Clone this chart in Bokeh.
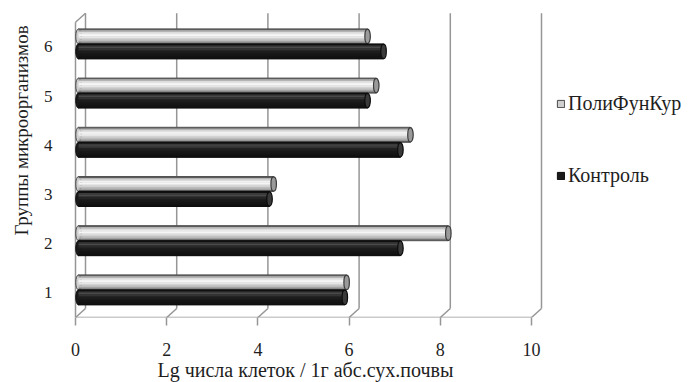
from bokeh.plotting import figure
from bokeh.models import FixedTicker, Legend, LegendItem, ColumnDataSource, Title
from bokeh.embed import file_html
from bokeh.resources import INLINE

# ---- data -------------------------------------------------------------
groups = [1, 2, 3, 4, 5, 6]
polifunkur = [5.88, 8.11, 4.28, 7.28, 6.53, 6.34]
kontrol = [5.84, 7.06, 4.19, 7.06, 6.34, 6.69]
x_ticks = [0, 2, 4, 6, 8, 10]
series_names = ["ПолиФунКур", "Контроль"]
x_title = "Lg числа клеток / 1г абс.сух.почвы"
y_title = "Группы микроорганизмов"

# ---- layout (pixels) --------------------------------------------------
W, H = 689, 382
FRAME_L, FRAME_T, FRAME_B = 62, 8, 317
ZERO_PX = 75          # pixel of x = 0 on the front plane
PX_X = 45.6           # pixels per x unit
PX_Y = 49.2           # pixels per category

x0 = -(ZERO_PX - FRAME_L) / PX_X
x1 = (W - ZERO_PX) / PX_X
y0 = 0.5
y1 = 0.5 + (FRAME_B - FRAME_T) / PX_Y

# depth offset of the back wall and of the bars (pseudo 3-D)
DX, DY = 10 / PX_X, 9 / PX_Y
BX, BY = 3 / PX_X, 3 / PX_Y
BAR_H = 15 / PX_Y
CAP_W = 5.5 / PX_X

SERIF = "Liberation Serif"
TEXT = "#1e1e1e"
WALL = "#969696"

p = figure(width=W, height=H, x_range=(x0, x1), y_range=(y0, y1),
           output_backend="svg", toolbar_location=None,
           min_border_left=FRAME_L, min_border_right=0,
           min_border_top=FRAME_T, min_border_bottom=H - FRAME_B)
p.outline_line_color = None
p.grid.visible = False
p.background_fill_color = "white"
p.border_fill_color = "white"

# ---- axes -------------------------------------------------------------
xa = p.xaxis[0]
xa.ticker = FixedTicker(ticks=x_ticks)
xa.axis_line_color = None
xa.major_tick_in = 0
xa.major_tick_out = 8
xa.major_tick_line_color = WALL
xa.major_tick_line_width = 1.5
xa.minor_tick_line_color = None
xa.major_label_text_font = SERIF
xa.major_label_text_font_size = "18px"
xa.major_label_text_color = TEXT
xa.major_label_standoff = 17

ya = p.yaxis[0]
ya.ticker = FixedTicker(ticks=groups)
ya.axis_line_color = None
ya.major_tick_in = 0
ya.major_tick_out = 0
ya.major_tick_line_color = None
ya.minor_tick_line_color = None
ya.major_label_text_font = SERIF
ya.major_label_text_font_size = "17px"
ya.major_label_text_color = TEXT
ya.major_label_standoff = 10

# ---- walls and floor --------------------------------------------------
front_bottom, front_top = 0.5, 6.5
gx = [t + DX for t in x_ticks]
p.segment(x0=gx, y0=[front_bottom + DY] * len(gx), x1=gx, y1=[front_top + DY] * len(gx),
          line_color=WALL, line_width=1.5)
# floor: front edge and depth lines at every tick
p.segment(x0=[x_ticks[0]], y0=[front_bottom], x1=[x_ticks[-1]], y1=[front_bottom],
          line_color=WALL, line_width=1.5)
p.segment(x0=x_ticks, y0=[front_bottom] * len(x_ticks), x1=gx, y1=[front_bottom + DY] * len(gx),
          line_color=WALL, line_width=1.5)
# left wall
p.segment(x0=[0, 0], y0=[front_top, front_bottom], x1=[DX, 0], y1=[front_top + DY, front_top],
          line_color=WALL, line_width=1.5)

# ---- cylinders --------------------------------------------------------
styles = {
    "ПолиФунКур": dict(
        base="#cfcfcf", edge="#4a4a4a", cap="#9a9a9a", cap_edge="#3a3a3a",
        strips=["#5a5a5a", "#b4b4b4", "#dcdcdc", "#f2f2f2", "#f6f6f6",
                "#e6e6e6", "#d2d2d2", "#bcbcbc", "#a2a2a2", "#5a5a5a"]),
    "Контроль": dict(
        base="#1a1a1a", edge="#0c0c0c", cap="#3a3a3a", cap_edge="#0c0c0c",
        strips=["#101010", "#3a3a3a", "#4a4a4a", "#333333", "#242424",
                "#1c1c1c", "#181818", "#151515", "#121212", "#0e0e0e"]),
}

legend_items = []
for name, vals, off in [("ПолиФунКур", polifunkur, BY + BAR_H / 2),
                        ("Контроль", kontrol, BY - BAR_H / 2)]:
    st = styles[name]
    src = ColumnDataSource(dict(
        y=[g + off for g in groups],
        left=[BX] * len(vals),
        right=[v + BX for v in vals],
    ))
    base = p.hbar(y="y", left="left", right="right", height=BAR_H, source=src,
                  fill_color=st["base"], line_color=st["edge"], line_width=1)
    p.ellipse(x="left", y="y", width=CAP_W, height=BAR_H, source=src,
              fill_color=st["base"], line_color=st["edge"], line_width=1)
    n = len(st["strips"])
    sh = BAR_H / n
    for k, col in enumerate(st["strips"]):
        ssrc = ColumnDataSource(dict(
            y=[g + off + BAR_H / 2 - (k + 0.5) * sh for g in groups],
            left=[BX] * len(vals),
            right=[v + BX for v in vals],
        ))
        p.hbar(y="y", left="left", right="right", height=sh * 1.02, source=ssrc,
               fill_color=col, line_color=None)
    p.ellipse(x="right", y="y", width=CAP_W, height=BAR_H * 0.96, source=src,
              fill_color=st["cap"], line_color=st["cap_edge"], line_width=1.2)
    legend_items.append(LegendItem(label=name, renderers=[base]))

# legend sits to the right of the back wall; location is its lower-left corner
legend = Legend(items=legend_items, location=(556 - FRAME_L, FRAME_B - 187),
                orientation="vertical", glyph_width=9, glyph_height=9,
                label_height=24, spacing=48, padding=0, margin=0,
                label_standoff=3, border_line_color=None,
                background_fill_alpha=0,
                label_text_font=SERIF, label_text_font_size="20px",
                label_text_color=TEXT)
p.add_layout(legend)

# ---- axis titles ------------------------------------------------------
x_lbl = Title(text=x_title, align="left", offset=157 - FRAME_L,
              vertical_align="top",
              text_font=SERIF, text_font_size="20px", text_font_style="normal",
              text_color=TEXT)
y_lbl = Title(text=y_title, align="left", offset=FRAME_B - 235,
              vertical_align="top",
              text_font=SERIF, text_font_size="19px", text_font_style="normal",
              text_color=TEXT)
if "standoff" in Title.properties():
    x_lbl.standoff = 0
    y_lbl.standoff = 14
p.add_layout(x_lbl, "below")
p.add_layout(y_lbl, "left")

open("out.html", "w").write(file_html(p, INLINE))
